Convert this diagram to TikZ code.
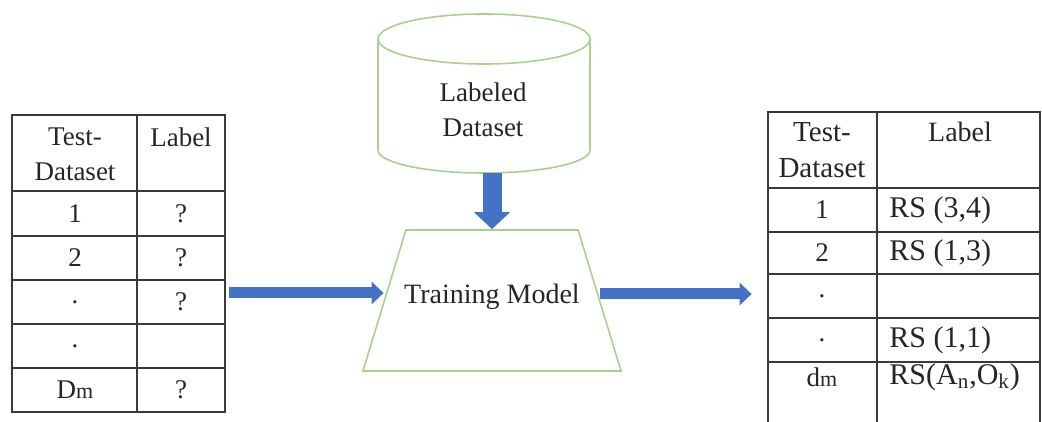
\documentclass[tikz,border=0pt]{standalone}
\usepackage{fontspec}
\setmainfont{Liberation Serif}
\usetikzlibrary{arrows.meta,positioning,shapes.geometric,calc}
\definecolor{leaf}{HTML}{A9D18E}
\definecolor{azure}{HTML}{4472C4}
\definecolor{ink}{HTML}{262626}
\definecolor{grid}{HTML}{3A3A3A}

\begin{document}
\begin{tikzpicture}[x=0.5pt,y=0.5pt,font=\fontsize{13.5}{17.5}\selectfont,
  cell/.style={inner sep=0pt,align=center,text=ink},
  rule/.style={draw=grid,line width=1pt},
  bigarrow/.style={draw=azure,line width=5.5pt,-{Triangle[length=6pt,width=11pt]}}]
  \useasboundingbox (0,0) rectangle (1042,422);

  % left table (unlabeled test data)
  \node[rule,minimum width=106.5pt,minimum height=148.5pt,inner sep=0pt] (ltab) at (118.5,158.5) {};
  \draw[rule] (137,307) -- (137,10);
  \foreach \y in {231,186,142,98,54}
    \draw[rule] (12,\y) -- (225,\y);
  \node[cell] (lhead) at (75,267.5) {Test-\\Dataset};
  \node[cell] (llabel) at (181,285) {Label};
  \foreach \a/\b/\y [count=\i] in {1/?/208.5, 2/?/164, ./?/120, ./{}/76,
      {D\fontsize{11}{11}\selectfont m}/?/32} {
    \node[cell] (lid\i) at (75,\y) {\a};
    \node[cell] (lq\i) at (181,\y) {\b};
  }

  % labeled dataset
  \draw[leaf,line width=0.8pt,fill=white] (378,383) -- (378,272) arc (180:360:53pt and 11.5pt) -- (590,383);
  \draw[leaf,line width=0.8pt] (484,383) ellipse (53pt and 12.5pt);
  \coordinate (dbase) at (492,249);
  \node[cell] (data) at (483,312) {Labeled\\Dataset};

  % model
  \node[trapezium,trapezium left angle=76,trapezium right angle=76,trapezium stretches=true,
        minimum width=129pt,minimum height=70.5pt,draw=leaf,line width=0.8pt] (model) at (492,121.5) {};
  \node[cell,font=\fontsize{14}{16}\selectfont] (mtxt) at (492,125) {Training Model};

  % right table (predicted labels)
  \draw[rule] (768,0) -- (768,310) -- (1040,310) -- (1040,0);
  \node[minimum width=136pt,minimum height=155pt,inner sep=0pt] (rtab) at (904,155) {};
  \draw[rule] (877,310) -- (877,0);
  \foreach \y in {234,190,148,104,60}
    \draw[rule] (768,\y) -- (1040,\y);
  \node[cell,font=\fontsize{14.5}{18}\selectfont] (rhead) at (822,272) {Test-\\Dataset};
  \node[cell,font=\fontsize{14}{17}\selectfont] (rlabel) at (960,290) {Label};
  \foreach \a/\b/\y [count=\i] in {1/{RS (3,4)}/212, 2/{RS (1,3)}/169, ./{}/126, ./{RS (1,1)}/82,
      {d\fontsize{11}{11}\selectfont m}/{RS(A\textsubscript{n},O\textsubscript{k})}/45} {
    \node[cell] (rid\i) at (822,\y) {\a};
    \node[cell,anchor=west,font=\fontsize{15}{17}\selectfont] (rs\i) at (889,\y) {\b};
  }

  % arrows
  \draw[bigarrow] ([xshift=1.5pt]ltab.east |- 0,129) -- (model.west |- 0,129);
  \draw[bigarrow] (model.east |- 0,128) -- ([xshift=-8pt]rtab.west |- 0,128);
  \draw[draw=azure,line width=9.5pt,-{Triangle[length=8.5pt,width=17.5pt]}] (dbase) -- (model.north);
\end{tikzpicture}
\end{document}
